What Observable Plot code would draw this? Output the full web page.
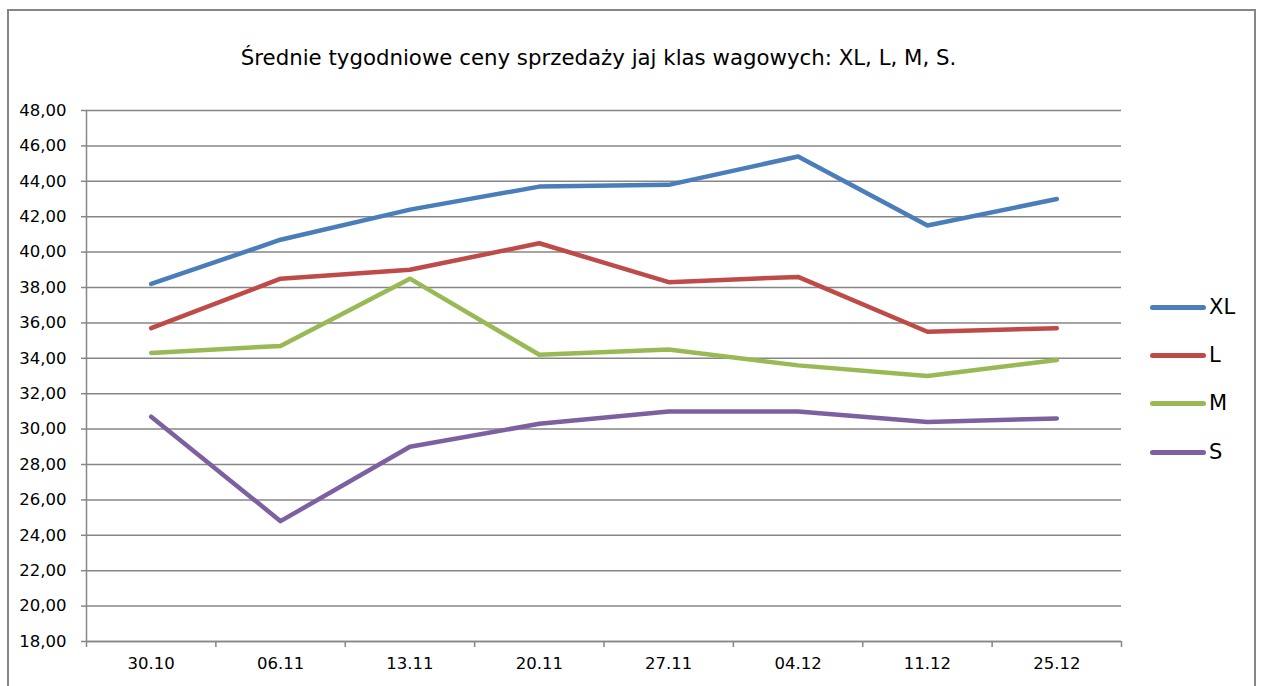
<!DOCTYPE html>
<html>
<head>
<meta charset="utf-8">
<script src="https://cdn.jsdelivr.net/npm/d3@7"></script>
<script src="https://cdn.jsdelivr.net/npm/@observablehq/plot@0.6"></script>
<style>
  html, body { margin: 0; padding: 0; background: #fff; width: 1264px; height: 686px; overflow: hidden; }
  body { position: relative; font-family: "DejaVu Sans", sans-serif; }
  #frame { position: absolute; left: 7px; top: 9px; width: 1249px; height: 700px; border: 2px solid #868686; box-sizing: border-box; }
  #title { position: absolute; left: 0; width: 1197px; top: 45px; text-align: center; font-size: 21.3px; color: #000; white-space: nowrap; }
  #chart { position: absolute; left: 0; top: 0; }
  .leg { position: absolute; left: 1150px; height: 24px; display: flex; align-items: center; font-size: 21px; color: #000; }
  .leg span.sw { display: inline-block; width: 56px; height: 5px; border-radius: 3px; margin-right: 3px; }
</style>
</head>
<body>
<div id="frame"></div>
<div id="chart"></div>
<div id="title"></div>
<div id="legend"></div>
<script>
const titleText = "Średnie tygodniowe ceny sprzedaży jaj klas wagowych: XL, L, M, S.";
const categories = ["30.10", "06.11", "13.11", "20.11", "27.11", "04.12", "11.12", "25.12"];
const seriesNames = ["XL", "L", "M", "S"];
const seriesColors = ["#4a7ebb", "#be4b48", "#98b954", "#7d60a0"];
const valuesXL = [38.2, 40.7, 42.4, 43.7, 43.8, 45.4, 41.5, 43.0];
const valuesL  = [35.7, 38.5, 39.0, 40.5, 38.3, 38.6, 35.5, 35.7];
const valuesM  = [34.3, 34.7, 38.5, 34.2, 34.5, 33.6, 33.0, 33.9];
const valuesS  = [30.7, 24.8, 29.0, 30.3, 31.0, 31.0, 30.4, 30.6];
const yTicks = [18, 20, 22, 24, 26, 28, 30, 32, 34, 36, 38, 40, 42, 44, 46, 48];

const allValues = [valuesXL, valuesL, valuesM, valuesS];
const data = [];
seriesNames.forEach((s, si) => {
  categories.forEach((c, i) => {
    data.push({series: s, xi: i + 0.5, category: c, value: allValues[si][i]});
  });
});

document.getElementById("title").textContent = titleText;

const grid = "#868686";
const chart = Plot.plot({
  width: 1264,
  height: 686,
  marginLeft: 86,
  marginRight: 143,
  marginTop: 110,
  marginBottom: 45,
  style: {fontFamily: "'DejaVu Sans', sans-serif", fontSize: "16px", color: "#000", background: "transparent", overflow: "visible"},
  x: {type: "linear", domain: [0, categories.length]},
  y: {domain: [18, 48]},
  color: {domain: seriesNames, range: seriesColors},
  marks: [
    Plot.gridY({ticks: yTicks, stroke: grid, strokeOpacity: 1, strokeWidth: 1.5}),
    Plot.axisY({ticks: yTicks, tickFormat: d => d.toFixed(2).replace(".", ","), tickSize: 5, tickPadding: 15, stroke: grid, strokeWidth: 1.5, fill: "#000", label: null, fontSize: 16.5}),
    Plot.axisX({ticks: d3.range(categories.length + 1), tickFormat: () => "", tickSize: 6, stroke: grid, strokeWidth: 1.5, label: null}),
    Plot.axisX({ticks: categories.map((c, i) => i + 0.5), tickFormat: d => categories[Math.floor(d)], tickSize: 0, tickPadding: 16, fill: "#000", label: null, fontSize: 16.5}),
    Plot.ruleX([0], {stroke: grid, strokeWidth: 1.5}),
    Plot.ruleY([18], {stroke: grid, strokeWidth: 1.5}),
    Plot.lineY(data, {x: "xi", y: "value", z: "series", stroke: "series", strokeWidth: 4.5, strokeLinecap: "round", strokeLinejoin: "round"})
  ]
});
document.getElementById("chart").appendChild(chart);

const legendTops = [307, 355, 403, 452];
const legend = document.getElementById("legend");
seriesNames.forEach((s, i) => {
  const d = document.createElement("div");
  d.className = "leg";
  d.style.top = (legendTops[i] - 12) + "px";
  const sw = document.createElement("span");
  sw.className = "sw";
  sw.style.background = seriesColors[i];
  d.appendChild(sw);
  d.appendChild(document.createTextNode(s));
  legend.appendChild(d);
});
</script>
</body>
</html>
